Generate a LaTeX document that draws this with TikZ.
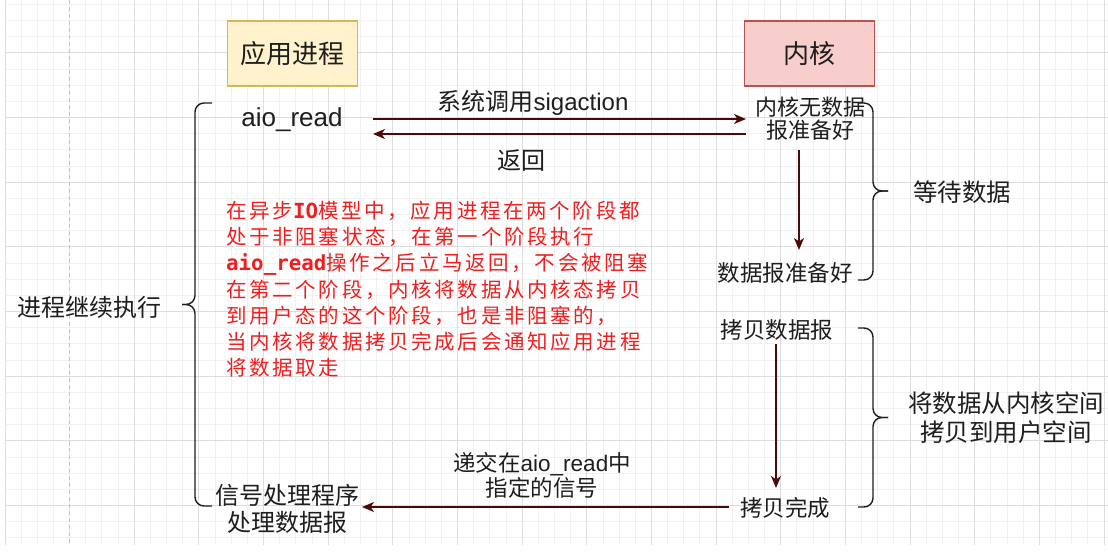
\documentclass[tikz,border=0pt]{standalone}
\usepackage{fontspec}
\setmainfont{Liberation Sans}
\newfontfamily\cjk{Noto Sans CJK SC}
\newfontfamily\cjkred[LetterSpace=13]{Noto Sans CJK SC}
\newfontfamily\monob{DejaVu Sans Mono}
\usetikzlibrary{arrows.meta}
\definecolor{gridminor}{HTML}{F1F1F1}
\definecolor{gridmajor}{HTML}{DDDDDD}
\definecolor{griddash}{HTML}{C4C4C4}
\definecolor{arrowc}{HTML}{4A0A0A}
\definecolor{yfill}{HTML}{FFF2CC}
\definecolor{ydraw}{HTML}{D6B656}
\definecolor{rfill}{HTML}{F8CECC}
\definecolor{rdraw}{HTML}{B85450}
\definecolor{redtext}{HTML}{F01E1E}
\definecolor{txt}{HTML}{1E1E1E}
\begin{document}
\begin{tikzpicture}[x=1pt,y=-1pt,
  minorline/.style={gridminor,line width=1pt},
  majorline/.style={gridmajor,line width=1pt},
  headbox/.style={minimum width=130pt,minimum height=65pt,line width=1.5pt,inner sep=0pt,
    text=txt,font=\fontsize{26}{30}\selectfont\cjk},
  lbl/.style={text=txt,inner sep=0pt,align=center,font=\fontsize{#1}{#1}\selectfont},
  flow/.style={draw=arrowc,line width=1.6pt,-{Stealth[length=12pt,width=10pt,inset=3.5pt]}},
  bracket/.style={draw=txt,line width=1.4pt,rounded corners=9pt}]
\useasboundingbox (0,0) rectangle (1108,556);
\fill[white] (0,0) rectangle (1108,556);
% grid
\foreach \i in {0,...,68} \draw[minorline] ({5+\i*16.1625},0) -- ({5+\i*16.1625},545);
\foreach \j in {0,...,33} \draw[minorline] (5,{4.5+\j*16.1625}) -- (1108,{4.5+\j*16.1625});
\foreach \i in {0,2,3,...,17} \draw[majorline] ({5+\i*64.65},0) -- ({5+\i*64.65},545);
\foreach \j in {0,...,7} \draw[majorline] (5,{53+\j*64.65}) -- (1108,{53+\j*64.65});
\draw[griddash,line width=1pt,dash pattern=on 4pt off 3pt] (69.65,0) -- (69.65,545);
% header boxes
\node[headbox,fill=yfill,draw=ydraw] (app) at (292.5,53.5) {应用进程};
\node[headbox,fill=rfill,draw=rdraw] (kern) at (809.5,53.5) {内核};
% labels
\node[lbl=26] (aio) at (292,120) {aio\_read};
\node[lbl=24] (sigl) at (533,102.5) {{\cjk 系统调用}sigaction};
\node[lbl=24] (retl) at (521,161) {\cjk 返回};
\node[lbl=22, font=\fontsize{22}{23.5}\selectfont\cjk] (knd) at (810,118.5) {内核无数据\\报准备好};
\node[lbl=22.5, font=\fontsize{22.5}{22.5}\selectfont\cjk] (drd) at (785,273) {数据报准备好};
\node[lbl=24.5, font=\fontsize{24.5}{24.5}\selectfont\cjk] (wait) at (962,192) {等待数据};
\node[lbl=22.5, font=\fontsize{22.5}{22.5}\selectfont\cjk] (cpy) at (777,330) {拷贝数据报};
\node[lbl=22.5, font=\fontsize{22.5}{22.5}\selectfont\cjk] (cpd) at (785,508) {拷贝完成};
\node[lbl=24.5, font=\fontsize{24.5}{29}\selectfont\cjk] (mv) at (1006,417.5) {将数据从内核空间\\拷贝到用户空间};
\node[lbl=22.5, font=\fontsize{22.5}{25}\selectfont] (sigd) at (542,475.5) {{\cjk 递交在}aio\_read{\cjk 中}\\{\cjk 指定的信号}};
\node[lbl=24, font=\fontsize{24}{27}\selectfont\cjk] (hdl) at (287,508.5) {信号处理程序\\处理数据报};
\node[lbl=24, font=\fontsize{24}{24}\selectfont\cjk] (cont) at (89.5,307) {进程继续执行};
% red explanation
\node[anchor=west,inner sep=0pt,align=left,text=redtext,font=\fontsize{20.5}{26.2}\selectfont\cjkred] (note) at (226,289.3)
 {在异步{\monob\bfseries\fontsize{20.8}{26.2}\selectfont IO}模型中，应用进程在两个阶段都\\
  处于非阻塞状态，在第一个阶段执行\\
  {\monob\bfseries\fontsize{20.8}{26.2}\selectfont aio\_read}操作之后立马返回，不会被阻塞\\
  在第二个阶段，内核将数据从内核态拷贝\\
  到用户态的这个阶段，也是非阻塞的，\\
  当内核将数据拷贝完成后会通知应用进程\\
  将数据取走};
% connector end points
\coordinate (a1s) at (373,119);
\coordinate (a1e) at (746,119);
\coordinate (a2s) at (746,134);
\coordinate (a2e) at (373,134);
\coordinate (a3s) at (799,150);
\coordinate (a3e) at (799,250);
\coordinate (a4s) at (776,344);
\coordinate (a4e) at (776,488);
\coordinate (a5s) at (729,507);
\coordinate (a5e) at (362,507);
\draw[flow] (a1s) -- (a1e);
\draw[flow] (a2s) -- (a2e);
\draw[flow] (a3s) -- (a3e);
\draw[flow] (a4s) -- (a4e);
\draw[flow] (a5s) -- (a5e);
% braces
\draw[bracket] (212,103) -- (195,103) -- (195,304.5) -- (182,304.5);
\draw[bracket] (212,506) -- (195,506) -- (195,304.5) -- (182,304.5);
\draw[bracket] (858,103) -- (873,103) -- (873,191) -- (888,191);
\draw[bracket] (858,280) -- (873,280) -- (873,191) -- (888,191);
\draw[bracket] (858,328) -- (873,328) -- (873,417.5) -- (888,417.5);
\draw[bracket] (858,507) -- (873,507) -- (873,417.5) -- (888,417.5);
\end{tikzpicture}
\end{document}
